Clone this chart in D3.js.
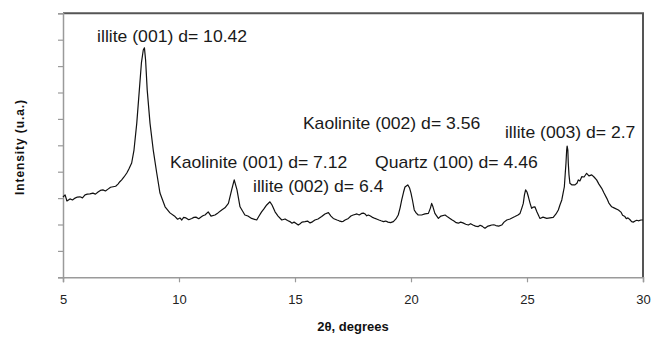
<!DOCTYPE html>
<html><head><meta charset="utf-8">
<script src="https://cdn.jsdelivr.net/npm/d3@7"></script>
<style>body{margin:0;background:#fff}svg{display:block}</style>
</head><body>
<script>
// 2θ (degrees)
const twoTheta = [5.00,5.09,5.17,5.30,5.41,5.52,5.62,5.73,5.84,5.95,6.05,6.16,6.29,6.40,6.51,6.61,6.72,6.83,6.94,7.05,7.16,7.27,7.37,7.45,7.53,7.63,7.75,7.84,7.96,8.06,8.18,8.29,8.38,8.46,8.51,8.56,8.63,8.75,8.89,9.04,9.18,9.40,9.61,9.83,9.94,10.04,10.12,10.20,10.30,10.42,10.55,10.64,10.73,10.85,10.98,11.05,11.12,11.26,11.38,11.55,11.68,11.84,11.98,12.13,12.27,12.38,12.50,12.63,12.84,12.97,13.13,13.35,13.45,13.56,13.66,13.78,13.92,14.01,14.14,14.27,14.43,14.57,14.68,14.78,14.87,14.96,15.05,15.14,15.22,15.30,15.43,15.54,15.65,15.75,15.86,15.99,16.15,16.29,16.44,16.55,16.65,16.81,16.90,17.01,17.08,17.16,17.30,17.41,17.51,17.67,17.77,17.87,17.95,18.02,18.09,18.16,18.25,18.32,18.45,18.54,18.62,18.71,18.81,18.91,19.01,19.12,19.24,19.35,19.45,19.53,19.60,19.68,19.74,19.86,19.94,20.00,20.07,20.14,20.22,20.31,20.46,20.60,20.75,20.84,20.89,20.95,21.03,21.18,21.29,21.47,21.59,21.68,21.76,21.85,21.95,22.04,22.14,22.24,22.36,22.47,22.57,22.67,22.78,22.90,22.98,23.06,23.12,23.19,23.32,23.40,23.48,23.57,23.66,23.78,23.91,24.01,24.13,24.27,24.48,24.61,24.70,24.78,24.84,24.89,24.94,25.00,25.06,25.13,25.20,25.27,25.34,25.43,25.52,25.56,25.69,25.85,25.99,26.13,26.25,26.35,26.42,26.50,26.55,26.61,26.65,26.68,26.71,26.73,26.76,26.78,26.81,26.85,26.94,27.07,27.16,27.21,27.28,27.36,27.46,27.57,27.67,27.79,27.89,28.00,28.10,28.22,28.32,28.44,28.53,28.65,28.75,28.94,29.05,29.12,29.22,29.28,29.35,29.43,29.51,29.58,29.66,29.73,29.80,29.91,30.00];
// Intensity (u.a.)
const intensity = [3.04,3.12,2.89,2.97,2.93,3.00,3.04,3.05,3.01,3.12,3.15,3.16,3.19,3.15,3.23,3.29,3.31,3.27,3.34,3.41,3.43,3.45,3.53,3.62,3.69,3.80,3.95,4.10,4.33,4.82,5.84,7.09,8.12,8.61,8.69,8.23,7.09,5.84,4.82,3.95,3.19,2.67,2.44,2.30,2.20,2.25,2.17,2.27,2.25,2.18,2.23,2.27,2.28,2.22,2.30,2.34,2.36,2.48,2.32,2.36,2.44,2.55,2.63,2.80,3.31,3.69,3.31,2.67,2.36,2.32,2.23,2.17,2.32,2.48,2.59,2.74,2.86,2.74,2.48,2.32,2.17,2.21,2.15,2.11,2.05,2.09,2.04,1.98,2.03,2.09,2.11,2.13,2.06,2.10,2.17,2.21,2.30,2.40,2.45,2.32,2.23,2.17,2.14,2.11,2.12,2.17,2.23,2.32,2.36,2.40,2.36,2.42,2.43,2.40,2.33,2.36,2.32,2.28,2.23,2.20,2.17,2.14,2.11,2.13,2.09,2.07,2.11,2.21,2.36,2.63,2.93,3.23,3.42,3.50,3.38,3.19,2.89,2.55,2.44,2.36,2.36,2.40,2.42,2.63,2.80,2.66,2.42,2.23,2.32,2.36,2.28,2.23,2.18,2.13,2.07,2.05,2.09,2.06,2.01,1.98,2.03,1.98,1.94,1.92,1.97,1.94,1.90,1.86,1.94,1.96,1.98,1.99,1.96,1.94,1.98,2.09,2.17,2.21,2.30,2.36,2.42,2.63,2.80,3.12,3.31,3.23,3.05,2.81,2.61,2.66,2.67,2.47,2.30,2.23,2.28,2.23,2.25,2.27,2.40,2.55,2.74,2.93,3.16,3.43,3.95,4.32,4.82,4.97,4.82,4.32,3.88,3.56,3.50,3.50,3.57,3.69,3.65,3.81,3.80,3.94,3.84,3.88,3.80,3.69,3.53,3.37,3.19,2.99,2.81,2.67,2.63,2.55,2.47,2.35,2.30,2.22,2.25,2.19,2.11,2.09,2.13,2.16,2.14,2.17,2.17];
const xTicks = [5,10,15,20,25,30];
const yTicks = [0,1,2,3,4,5,6,7,8,9,10];
const labelTexts = ["illite (001) d= 10.42","Kaolinite (001) d= 7.12","illite (002) d= 6.4","Quartz (100) d= 4.46","Kaolinite (002) d= 3.56","illite (003) d= 2.7"];
const xTitle = "2θ, degrees";
const yTitle = "Intensity (u.a.)";

// layout (label anchor positions in data units)
const labelPos = [[6.47,8.91],[9.61,4.14],[13.19,3.23],[18.45,4.14],[15.34,5.62],[24.05,5.28]];

const W=651,H=338, L=63, R=643, T=13.3, B=277.3;
const svg=d3.select("body").append("svg").attr("width",W).attr("height",H);
const x=d3.scaleLinear().domain([5,30]).range([L,R]);
const y=d3.scaleLinear().domain([0,10]).range([B,T]);

// border top/right
svg.append("path").attr("d",`M${L},${T}H${R}V${B}`).attr("fill","none").attr("stroke","#555").attr("stroke-width",2);

const gx=svg.append("g").attr("transform",`translate(0,${B})`)
  .call(d3.axisBottom(x).tickValues(xTicks).tickSize(5).tickPadding(12).tickFormat(d3.format("d")));
const gy=svg.append("g").attr("transform",`translate(${L},0)`)
  .call(d3.axisLeft(y).tickValues(yTicks).tickSize(5).tickFormat(""));
[gx,gy].forEach(g=>{
  g.select(".domain").attr("stroke","#9a9a9a").attr("stroke-width",1.5);
  g.selectAll(".tick line").attr("stroke","#9a9a9a").attr("stroke-width",1.2);
});
gx.selectAll(".tick text").attr("font-family","Liberation Sans, Arial, sans-serif").attr("font-size",13).attr("fill","#222");

const line=d3.line().x((d,i)=>x(twoTheta[i])).y(d=>y(d));
svg.append("path").datum(intensity).attr("d",line).attr("fill","none").attr("stroke","#111").attr("stroke-width",1.2).attr("stroke-linejoin","round");

svg.selectAll("text.lab").data(labelTexts).enter().append("text").attr("class","lab")
  .attr("transform",(d,i)=>`translate(${x(labelPos[i][0])},${y(labelPos[i][1])}) scale(1.1,1)`)
  .attr("font-family","Liberation Sans, Arial, sans-serif").attr("font-size",16).attr("fill","#1a1a1a")
  .text(d=>d);

svg.append("text").attr("x",(L+R)/2).attr("y",331).attr("text-anchor","middle")
  .attr("font-family","Liberation Sans, Arial, sans-serif").attr("font-weight","bold").attr("font-size",13).attr("fill","#111")
  .text(xTitle);
svg.append("text").attr("transform",`translate(24,147) rotate(-90)`).attr("text-anchor","middle")
  .attr("font-family","Liberation Sans, Arial, sans-serif").attr("font-weight","bold").attr("font-size",12).attr("letter-spacing",0.9).attr("fill","#111")
  .text(yTitle);
</script>
</body></html>
